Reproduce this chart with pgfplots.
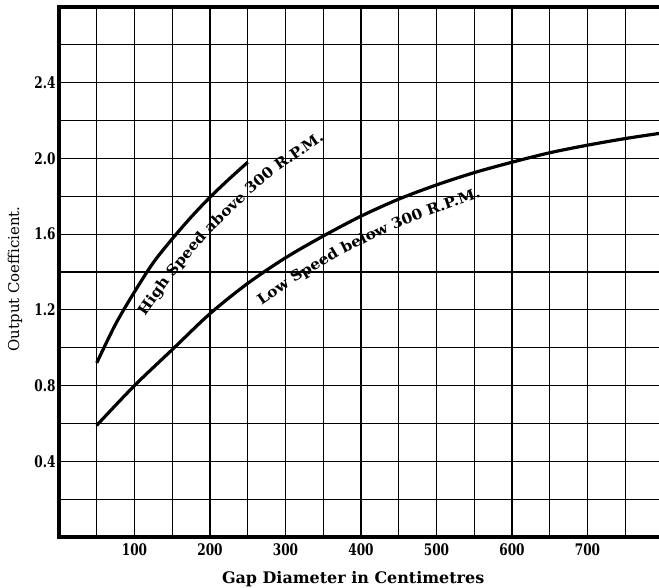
\documentclass[border=0pt]{standalone}
\usepackage{fontspec}
\setmainfont{DejaVu Serif}
\newfontfamily\tickfont[FakeStretch=0.76]{DejaVu Serif}
\newfontfamily\labelfont{DejaVu Serif}
\newfontfamily\captionfont[FakeStretch=1.08]{DejaVu Serif}
\usepackage{pgfplots}
\pgfplotsset{compat=1.18}

\newcommand\curvefont{\captionfont\bfseries\fontsize{14.5}{14.5}\selectfont}

\begin{document}
\begin{tikzpicture}
\begin{axis}[
  name=ax,
  scale only axis,
  width=604bp, height=530bp,
  xmin=0, xmax=800, ymin=0, ymax=2.8,
  xtick={100,200,300,400,500,600,700},
  minor xtick={50,150,250,350,450,550,650,750},
  ytick={0.4,0.8,1.2,1.6,2.0,2.4},
  minor ytick={0.2,0.6,1.0,1.4,1.8,2.2,2.6},
  grid=both,
  major grid style={black, line width=1.25bp},
  minor grid style={black, line width=1.25bp},
  major tick length=0pt, minor tick length=0pt,
  axis line style={black, line width=3.2bp},
  /pgf/number format/assume math mode=true,
  tick label style={font={\tickfont\bfseries\fontsize{16}{16}\selectfont}},
  y tick label style={/pgf/number format/fixed,
    /pgf/number format/fixed zerofill,
    /pgf/number format/precision=1,
    anchor=east, xshift=0bp},
  x tick label style={anchor=base, yshift=-18bp},
  xlabel={Gap Diameter in Centimetres},
  ylabel={Output Coefficient.},
  every axis x label/.style={at={(rel axis cs:0.487,0)}, anchor=center,
    yshift=-42bp, font={\labelfont\bfseries\fontsize{16}{16}\selectfont}},
  every axis y label/.style={at={(rel axis cs:0,0.487)}, anchor=center,
    rotate=90, yshift=44bp, font={\labelfont\fontsize{15}{15}\selectfont}},
]

% high speed machines (above 300 R.P.M.)
\addplot[black, line width=3.2bp, smooth] coordinates {
  (50,0.92) (75,1.125) (100,1.295) (125,1.45) (150,1.575)
  (175,1.69) (200,1.795) (225,1.89) (250,1.98)
};

% low speed machines (below 300 R.P.M.)
\addplot[black, line width=3.2bp, smooth] coordinates {
  (50,0.59) (100,0.80) (150,0.99) (200,1.18) (250,1.34)
  (300,1.475) (350,1.59) (400,1.695) (450,1.785) (500,1.86)
  (550,1.925) (600,1.98) (650,2.03) (700,2.07) (750,2.105) (800,2.135)
};

% curve captions, word by word, each word turned to follow its curve
\begin{scope}[every node/.style={font=\curvefont, inner sep=0pt, anchor=base west}]
  \node[rotate=55] (h1) at (axis cs:114,1.165) {High};
  \node[rotate=50] (h2) at ([shift={(52:4.5bp)}]h1.base east) {Speed};
  \node[rotate=44] (h3) at ([shift={(47:4.5bp)}]h2.base east) {above};
  \node[rotate=40] (h4) at ([shift={(42:4.5bp)}]h3.base east) {300};
  \node[rotate=35] (h5) at ([shift={(37:4.5bp)}]h4.base east) {R.P.M.};

  \node[rotate=35] (l1) at (axis cs:268,1.222) {Low};
  \node[rotate=31] (l2) at ([shift={(33:4.5bp)}]l1.base east) {Speed};
  \node[rotate=26] (l3) at ([shift={(28:4.5bp)}]l2.base east) {below};
  \node[rotate=22] (l4) at ([shift={(24:4.5bp)}]l3.base east) {300};
  \node[rotate=19] (l5) at ([shift={(20:4.5bp)}]l4.base east) {R.P.M.};
\end{scope}
\end{axis}
\pgfresetboundingbox
\path[use as bounding box] ([xshift=-59bp,yshift=-51bp]ax.south west)
  rectangle ([xshift=-4bp,yshift=7bp]ax.north east);
\end{tikzpicture}
\end{document}
